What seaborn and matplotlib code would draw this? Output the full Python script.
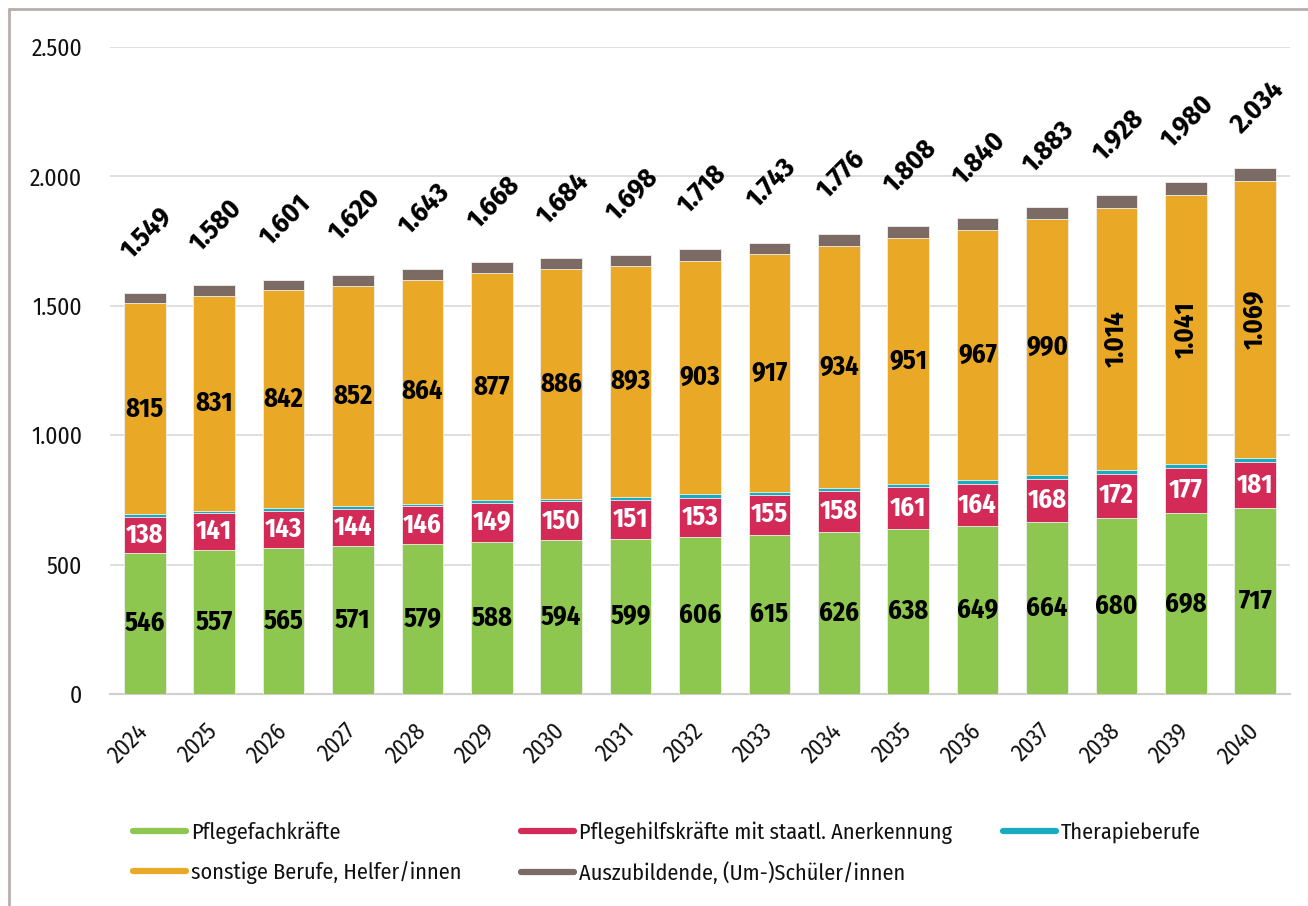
import matplotlib
matplotlib.use("Agg")
import matplotlib.pyplot as plt
from matplotlib import font_manager
from matplotlib.lines import Line2D
import seaborn as sns
import numpy as np
import pandas as pd

years = [str(y) for y in range(2024, 2041)]
pflegefach = [546, 557, 565, 571, 579, 588, 594, 599, 606, 615, 626, 638, 649, 664, 680, 698, 717]
pflegehilf = [138, 141, 143, 144, 146, 149, 150, 151, 153, 155, 158, 161, 164, 168, 172, 177, 181]
therapie = [10, 10, 10, 11, 11, 11, 11, 11, 12, 12, 12, 12, 13, 13, 13, 14, 14]
sonstige = [815, 831, 842, 852, 864, 877, 886, 893, 903, 917, 934, 951, 967, 990, 1014, 1041, 1069]
azubi = [40, 41, 41, 42, 43, 43, 43, 44, 44, 44, 46, 46, 47, 48, 49, 50, 53]
totals = [1549, 1580, 1601, 1620, 1643, 1668, 1684, 1698, 1718, 1743, 1776, 1808, 1840, 1883, 1928, 1980, 2034]

labels = ["Pflegefachkräfte", "Pflegehilfskräfte mit staatl. Anerkennung", "Therapieberufe",
          "sonstige Berufe, Helfer/innen", "Auszubildende, (Um-)Schüler/innen"]
colors = ["#8DC74F", "#D42A58", "#17ADBF", "#E9A926", "#7C6A64"]

sns.set_theme(style="white")
avail = {f.name for f in font_manager.fontManager.ttflist}
cands = ["Fira Sans Condensed", "Open Sans Condensed", "Roboto Condensed", "PT Sans Narrow",
         "Archivo Narrow", "Sofia Sans Condensed", "Liberation Sans Narrow"]
fam = next((c for c in cands if c in avail), "DejaVu Sans")
plt.rcParams["font.family"] = [fam, "DejaVu Sans"]

def de(n):
    return f"{n:,}".replace(",", ".")

series = [pflegefach, pflegehilf, therapie, sonstige, azubi]
cum = np.cumsum(np.array(series), axis=0)

fig = plt.figure(figsize=(13.08, 9.06), dpi=100)
ax = fig.add_axes([110/1308, 1-694/906, 1180/1308, 647/906])

df = pd.DataFrame({"year": years})
for i in range(4, -1, -1):
    df["h"] = cum[i]
    sns.barplot(data=df, x="year", y="h", color=colors[i], saturation=1, width=0.6,
                edgecolor="#F0F0F0", linewidth=0.6, ax=ax, zorder=3)

ax.set_ylim(0, 2500)
ax.set_xlim(-0.5, 16.5)
ax.set_yticks(range(0, 2501, 500))
ax.set_yticklabels([de(v) for v in range(0, 2501, 500)], fontsize=17, fontweight="normal", color="#111111")
ax.set_xticks(range(len(years)))
ax.set_xticklabels(years, rotation=45, ha="right", va="center", rotation_mode="anchor",
                   fontsize=17, fontweight="normal", color="#111111")
ax.tick_params(axis="y", length=0, pad=20, labelcolor="#111111")
ax.tick_params(axis="x", length=0, pad=24, labelcolor="#111111")
ax.set_xlabel("")
ax.set_ylabel("")
ax.grid(axis="y", color="#D9D9D9", linewidth=1.2, zorder=0)
ax.set_axisbelow(True)
for s in ["left", "right", "top"]:
    ax.spines[s].set_visible(False)
ax.spines["bottom"].set_color("#CFCFCF")
ax.spines["bottom"].set_linewidth(1.5)

fs = 19
for i in range(len(years)):
    ax.text(i, pflegefach[i] / 2, de(pflegefach[i]), ha="center", va="center",
            fontsize=fs, fontweight="bold", color="black", zorder=5)
    ax.text(i, pflegefach[i] + pflegehilf[i] / 2, de(pflegehilf[i]), ha="center", va="center",
            fontsize=fs, fontweight="bold", color="white", zorder=5)
    ymid = cum[2][i] + sonstige[i] / 2
    rot = 90 if sonstige[i] >= 1000 else 0
    ax.text(i, ymid, de(sonstige[i]), ha="center", va="center", rotation=rot,
            fontsize=fs, fontweight="bold", color="black", zorder=5)
    ax.annotate(de(totals[i]), xy=(i, totals[i]), xytext=(1.5, 43), textcoords="offset points",
                ha="center", va="center", rotation=45, fontsize=fs + 1, fontweight="bold",
                color="black", zorder=5, annotation_clip=False)

handles = [Line2D([0], [0], color=c, lw=4.5, solid_capstyle="round") for c in colors]
cols = [([0, 3], 133), ([1, 4], 521), ([2], 1003)]
for idx, x0 in cols:
    leg = fig.legend([handles[k] for k in idx], [labels[k] for k in idx], ncol=1,
                     loc="upper left", bbox_to_anchor=(x0/1308, 1-821/906), frameon=False,
                     prop={"size": 16, "weight": "normal"}, handlelength=2.4, handletextpad=0.2,
                     borderpad=0, borderaxespad=0, labelspacing=0.8)
    for t in leg.get_texts():
        t.set_color("#111111")

fig.add_artist(Line2D([9/1308, 9/1308], [0, 1-8.5/906], color="#B8ACAC", lw=2, transform=fig.transFigure))
fig.add_artist(Line2D([9/1308, 1], [1-8.5/906, 1-8.5/906], color="#B8ACAC", lw=2, transform=fig.transFigure))

fig.savefig("out.png", dpi=100)
